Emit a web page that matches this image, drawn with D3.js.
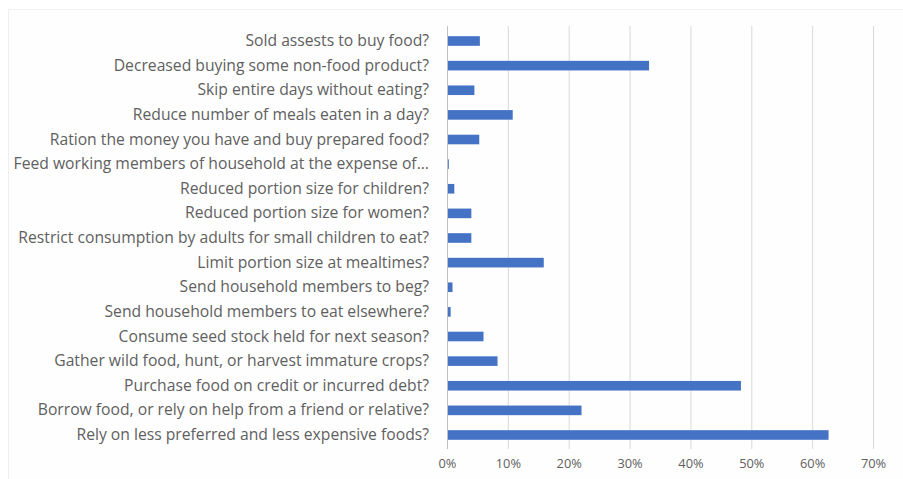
<!DOCTYPE html>
<html>
<head>
<meta charset="utf-8">
<script src="https://cdn.jsdelivr.net/npm/d3@7"></script>
<style>
  html, body { margin: 0; padding: 0; background: #ffffff; }
  svg { display: block; }
</style>
</head>
<body>
<svg id="chart" width="903" height="479"></svg>
<script>
// Coping strategies, share of households (top to bottom as drawn)
const categories = [
  "Sold assests to buy food?",
  "Decreased buying some non-food product?",
  "Skip entire days without eating?",
  "Reduce number of meals eaten in a day?",
  "Ration the money you have and buy prepared food?",
  "Feed working members of household at the expense of...",
  "Reduced portion size for children?",
  "Reduced portion size for women?",
  "Restrict consumption by adults for small children to eat?",
  "Limit portion size at mealtimes?",
  "Send household members to beg?",
  "Send household members to eat elsewhere?",
  "Consume seed stock held for next season?",
  "Gather wild food, hunt, or harvest immature crops?",
  "Purchase food on credit or incurred debt?",
  "Borrow food, or rely on help from a friend or relative?",
  "Rely on less preferred and less expensive foods?"
];
const shares = [
  0.054, 0.332, 0.045, 0.108, 0.053, 0.003, 0.012, 0.040, 0.040,
  0.159, 0.009, 0.006, 0.060, 0.083, 0.483, 0.221, 0.627
];
const tickValues = [0, 0.1, 0.2, 0.3, 0.4, 0.5, 0.6, 0.7];

const svg = d3.select("#chart");
const font = "'Open Sans', 'Liberation Sans', sans-serif";

// outer chart frame
svg.append("rect")
  .attr("x", 8.5).attr("y", 9.5)
  .attr("width", 900).attr("height", 480)
  .attr("fill", "#fefefe")
  .attr("stroke", "#eeeeee");

const x = d3.scaleLinear().domain([0, 0.7]).range([447, 873]);
const y = d3.scaleBand().domain(categories).range([28.7, 447.3])
  .paddingInner(0.61).paddingOuter(0.305);

// vertical gridlines
svg.append("g")
  .selectAll("line")
  .data(tickValues.slice(1))
  .join("line")
  .attr("x1", d => x(d) + 0.5).attr("x2", d => x(d) + 0.5)
  .attr("y1", 26).attr("y2", 449)
  .attr("stroke", "#d9d9d9")
  .attr("stroke-width", 1);

// bars
svg.append("g")
  .selectAll("rect")
  .data(categories)
  .join("rect")
  .attr("x", x(0))
  .attr("y", d => y(d))
  .attr("width", (d, i) => x(shares[i]) - x(0))
  .attr("height", y.bandwidth())
  .attr("fill", "#4472c4");

// category axis line
svg.append("line")
  .attr("x1", x(0) + 0.5).attr("x2", x(0) + 0.5)
  .attr("y1", 26).attr("y2", 449)
  .attr("stroke", "#bfbfbf");

// category labels
const yAxis = d3.axisLeft(y).tickSize(0).tickPadding(18);
const yg = svg.append("g").attr("transform", `translate(${x(0)},0)`).call(yAxis);
yg.select(".domain").remove();
yg.selectAll("text")
  .attr("fill", "#606060")
  .style("font-family", font)
  .style("font-size", "15.7px");

// value axis labels
const xAxis = d3.axisBottom(x).tickValues(tickValues)
  .tickFormat(d3.format(".0%")).tickSize(0).tickPadding(0);
const xg = svg.append("g").attr("transform", "translate(0,459)").call(xAxis);
xg.select(".domain").remove();
xg.selectAll("text")
  .attr("fill", "#606060")
  .style("font-family", font)
  .style("font-size", "12.8px");
</script>
</body>
</html>
